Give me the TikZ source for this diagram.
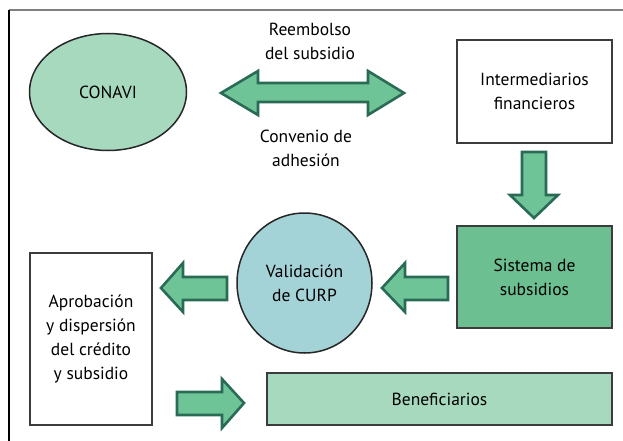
\documentclass[tikz,border=0pt]{standalone}
\usepackage{fontspec}
\setmainfont{PT Sans}
\usetikzlibrary{shapes.geometric}
\definecolor{mint}{HTML}{A6D9BD}
\definecolor{arrowfill}{HTML}{6FC497}
\definecolor{arrowline}{HTML}{2A6B56}
\definecolor{sistemafill}{HTML}{6BBF91}
\definecolor{curpfill}{HTML}{A3D3D7}
\definecolor{edge}{HTML}{3C3C3C}
\tikzset{
  blockarrow/.style={fill=arrowfill, draw=arrowline, line width=2.6pt, line join=miter},
  boxw/.style={draw=edge, line width=1.8pt, fill=white, align=center},
  lbl/.style={align=center}
}
\begin{document}
\begin{tikzpicture}[x=1pt, y=-1pt, font=\fontsize{17.5}{24}\selectfont]
        \useasboundingbox (0,0) rectangle (623,441);
        \fill[white] (0,0) rectangle (623,441);
        % frame
        \draw[gray, line width=1.6pt] (9,10) -- (623,10);
        \draw[black, line width=1.6pt] (9,10) -- (9,441);

        % nodes
        \node[ellipse, draw=black!85, line width=1.5pt, fill=mint, minimum width=157pt, minimum height=117pt] (conavi) at (108,92) {CONAVI};
        \node[boxw, minimum width=155pt, minimum height=103pt] (inter) at (534.5,91.5) {Intermediarios\\financieros};
        \node[boxw, fill=sistemafill, minimum width=155pt, minimum height=102pt] (sistema) at (534.5,277) {Sistema de\\subsidios};
        \node[ellipse, draw=black!85, line width=1.5pt, fill=curpfill, minimum width=135pt, minimum height=140pt, align=center] (curp) at (304.5,283) {Validación\\de CURP};
        \node[boxw, minimum width=122pt, minimum height=172pt] (aprob) at (91,339) {Aprobación\\y dispersión\\del crédito\\y subsidio};
        \node[boxw, fill=mint, minimum width=345pt, minimum height=52pt] (benef) at (439.5,399) {Beneficiarios};

        % labels of the double arrow
        \node[lbl] (reemb) at (310,41) {Reembolso\\del subsidio};
        \node[lbl] (conv) at (306,148) {Convenio de\\adhesión};

        % block arrows
        \draw[blockarrow] (221,93) -- (258,71) -- (258,83) -- (368,83) -- (368,71) -- (404,93)
              -- (368,115) -- (368,102) -- (258,102) -- (258,115) -- cycle;
        \draw[blockarrow] (522,152) -- (546,152) -- (546,195) -- (558,195) -- (534,218)
              -- (510,195) -- (522,195) -- cycle;
        \draw[blockarrow] (382,288) -- (405,263) -- (405,277) -- (448,277) -- (448,300)
              -- (405,300) -- (405,312) -- cycle;
        \draw[blockarrow] (161,288) -- (183,263) -- (183,277) -- (227,277) -- (227,300)
              -- (183,300) -- (183,312) -- cycle;
        \draw[blockarrow] (244,403) -- (222,379) -- (222,392) -- (177,392) -- (177,415)
              -- (222,415) -- (222,428) -- cycle;
    \end{tikzpicture}
\end{document}
